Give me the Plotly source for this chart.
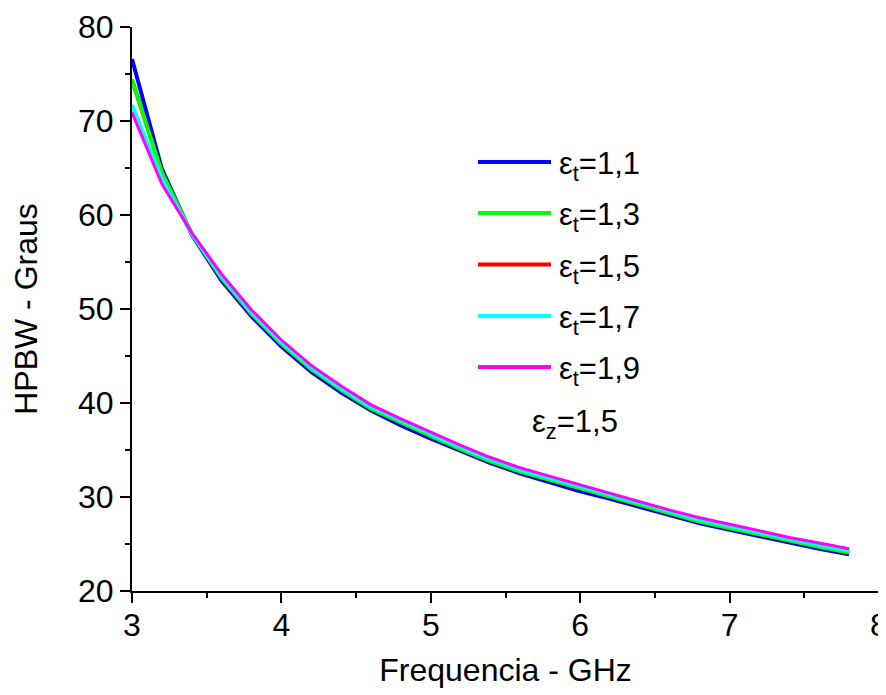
import plotly.graph_objects as go

# ---------------- data ----------------
freq = [3.0, 3.2, 3.4, 3.6, 3.8, 4.0, 4.2, 4.4, 4.6, 4.8, 5.0, 5.2, 5.4,
        5.6, 5.8, 6.0, 6.2, 6.4, 6.6, 6.8, 7.0, 7.2, 7.4, 7.6, 7.8]

hpbw_et_1_1 = [76.6, 64.9, 57.9, 53.0, 49.2, 46.0, 43.3, 41.1, 39.2, 37.6, 36.2, 34.9, 33.6,
               32.5, 31.5, 30.6, 29.8, 28.9, 28.0, 27.2, 26.5, 25.8, 25.1, 24.5, 23.9]
hpbw_et_1_3 = [74.4, 64.5, 58.0, 53.3, 49.5, 46.3, 43.6, 41.4, 39.4, 37.9, 36.5, 35.1, 33.8,
               32.7, 31.8, 30.9, 30.0, 29.1, 28.2, 27.4, 26.7, 26.0, 25.3, 24.7, 24.1]
hpbw_et_1_5 = [74.4, 64.5, 58.0, 53.3, 49.5, 46.3, 43.6, 41.4, 39.4, 37.9, 36.5, 35.1, 33.8,
               32.7, 31.8, 30.9, 30.0, 29.1, 28.2, 27.4, 26.7, 26.0, 25.3, 24.7, 24.1]
hpbw_et_1_7 = [71.7, 63.8, 58.0, 53.5, 49.7, 46.5, 43.8, 41.6, 39.6, 38.1, 36.7, 35.3, 34.0,
               32.9, 32.0, 31.1, 30.2, 29.3, 28.4, 27.6, 26.9, 26.2, 25.5, 24.9, 24.3]
hpbw_et_1_9 = [70.9, 63.3, 58.1, 53.7, 49.9, 46.7, 44.0, 41.8, 39.8, 38.3, 36.9, 35.5, 34.2,
               33.1, 32.2, 31.3, 30.4, 29.5, 28.6, 27.8, 27.1, 26.4, 25.7, 25.1, 24.5]

series_labels = ["ε<sub>t</sub>=1,1", "ε<sub>t</sub>=1,3", "ε<sub>t</sub>=1,5",
                 "ε<sub>t</sub>=1,7", "ε<sub>t</sub>=1,9"]
note_label = "ε<sub>z</sub>=1,5"
x_title = "Frequencia - GHz"
y_title = "HPBW - Graus"
x_ticks = [3, 4, 5, 6, 7, 8]
y_ticks = [20, 30, 40, 50, 60, 70, 80]

# ---------------- styling ----------------
colors = ["#0000FF", "#00FF00", "#FF0000", "#00FFFF", "#FF00FF"]
widths = [4, 4, 4, 4, 3]
series = [hpbw_et_1_1, hpbw_et_1_3, hpbw_et_1_5, hpbw_et_1_7, hpbw_et_1_9]
draw_order = [0, 2, 1, 3, 4]  # red lies under green

FONT = "Arial, 'Liberation Sans', sans-serif"

fig = go.Figure()
for i in draw_order:
    fig.add_trace(go.Scatter(
        x=freq, y=series[i], mode="lines",
        line=dict(color=colors[i], width=widths[i]),
        name=series_labels[i], showlegend=False,
    ))

# the page body adds an 8px offset; figure is sized to compensate
OFF = 8
W, H = 886 - OFF, 695 - OFF
# plot area in window pixels: left 132, right 879, top 27, bottom 591
L, R, T, B = 132, 879, 27, 591
def px(xp):
    return (xp - L) / (R - L)
def py(yp):
    return (B - yp) / (B - T)

legend_y = [162, 213, 264.5, 316, 367]
shapes = []
annotations = []
for i, yy in enumerate(legend_y):
    shapes.append(dict(type="line", xref="paper", yref="paper",
                       x0=px(478), x1=px(551), y0=py(yy), y1=py(yy),
                       line=dict(color=colors[i], width=4)))
    annotations.append(dict(xref="paper", yref="paper", x=px(557), y=py(yy),
                            xanchor="left", yanchor="middle", showarrow=False,
                            text=series_labels[i], yshift=-4,
                            font=dict(family=FONT, size=31, color="black")))
annotations.append(dict(xref="paper", yref="paper", x=px(530), y=py(420),
                        xanchor="left", yanchor="middle", showarrow=False,
                        text=note_label, yshift=-4,
                        font=dict(family=FONT, size=31, color="black")))

axis_common = dict(
    showline=True, linecolor="black", linewidth=2,
    ticks="outside", ticklen=10, tickwidth=2, tickcolor="black",
    showgrid=False, zeroline=False, ticklabeloverflow="allow",
    tickfont=dict(family=FONT, size=32, color="black"),
)

fig.update_layout(
    width=W, height=H,
    margin=dict(l=L - OFF, r=(W + OFF) - R, t=T - OFF, b=(H + OFF) - B, autoexpand=False),
    plot_bgcolor="white", paper_bgcolor="white",
    font=dict(family=FONT, color="black"),
    xaxis=dict(range=[3, 8], tickvals=x_ticks, ticklabelstandoff=-5,
               minor=dict(ticks="outside", ticklen=5, tickwidth=2, dtick=0.5,
                          tickcolor="black", showgrid=False),
               title=dict(text=x_title, font=dict(family=FONT, size=32), standoff=16),
               **axis_common),
    yaxis=dict(range=[20, 80], tickvals=y_ticks,
               minor=dict(ticks="outside", ticklen=5, tickwidth=2, dtick=5,
                          tickcolor="black", showgrid=False),
               title=dict(text=y_title, font=dict(family=FONT, size=32), standoff=36),
               **axis_common),
    shapes=shapes,
    annotations=annotations,
)

fig.write_html("out.html")
